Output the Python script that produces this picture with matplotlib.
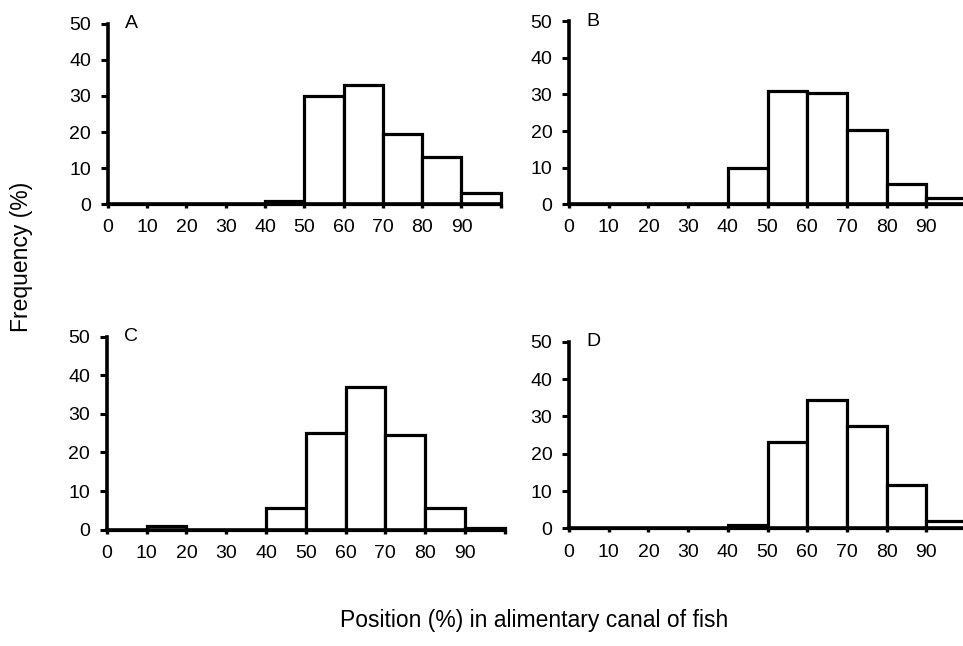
import numpy as np
import matplotlib
matplotlib.use("Agg")
import matplotlib.pyplot as plt

plt.rcParams['font.family'] = ['Liberation Sans', 'DejaVu Sans']

# bin edges 0..100 in steps of 10
bin_edges = [0, 10, 20, 30, 40, 50, 60, 70, 80, 90, 100]
tick_labels = ['0', '10', '20', '30', '40', '50', '60', '70', '80', '90', '']

freq_A = [0, 0, 0, 0, 1, 30, 33, 19.5, 13, 3]
freq_B = [0, 0, 0, 0, 10, 31, 30.3, 20.2, 5.6, 1.8]
freq_C = [0, 1, 0, 0, 5.6, 25, 37, 24.5, 5.7, 0.5]
freq_D = [0, 0, 0, 0, 1, 23.2, 34.3, 27.5, 11.7, 2]

panels = ['A', 'B', 'C', 'D']
series = [freq_A, freq_B, freq_C, freq_D]

fig = plt.figure(figsize=(9.63, 6.46), dpi=100)

# [left, bottom, width, height] in figure fractions
boxes = [
    [0.112, 0.684, 0.408, 0.279],
    [0.591, 0.684, 0.412, 0.283],
    [0.111, 0.180, 0.413, 0.299],
    [0.591, 0.182, 0.412, 0.289],
]

for name, vals, box in zip(panels, series, boxes):
    ax = fig.add_axes(box)
    ax.bar(bin_edges[:-1], vals, width=10, align='edge', color='white',
           edgecolor='black', linewidth=2.3, clip_on=False, zorder=3)
    ax.set_xlim(0, 100)
    ax.set_ylim(0, 50)
    ax.set_xticks(bin_edges)
    ax.set_xticklabels(tick_labels)
    ax.set_yticks([0, 10, 20, 30, 40, 50])
    for s in ['top', 'right']:
        ax.spines[s].set_visible(False)
    for s in ['left', 'bottom']:
        ax.spines[s].set_linewidth(2.6)
        ax.spines[s].set_zorder(4)
    ax.tick_params(axis='y', length=5, width=2.2, pad=7, labelsize=14)
    ax.tick_params(axis='x', length=3, width=2.4, pad=8, labelsize=14)
    ax.text(6, 50, name, ha='center', va='center', fontsize=14)
    ax.patch.set_visible(False)

fig.text(0.022, 0.602, 'Frequency (%)', rotation=90, ha='center', va='center',
         fontsize=16.5)
fig.text(0.555, 0.039, 'Position (%) in alimentary canal of fish',
         ha='center', va='center', fontsize=16.5)

fig.savefig('out.png', dpi=100)
